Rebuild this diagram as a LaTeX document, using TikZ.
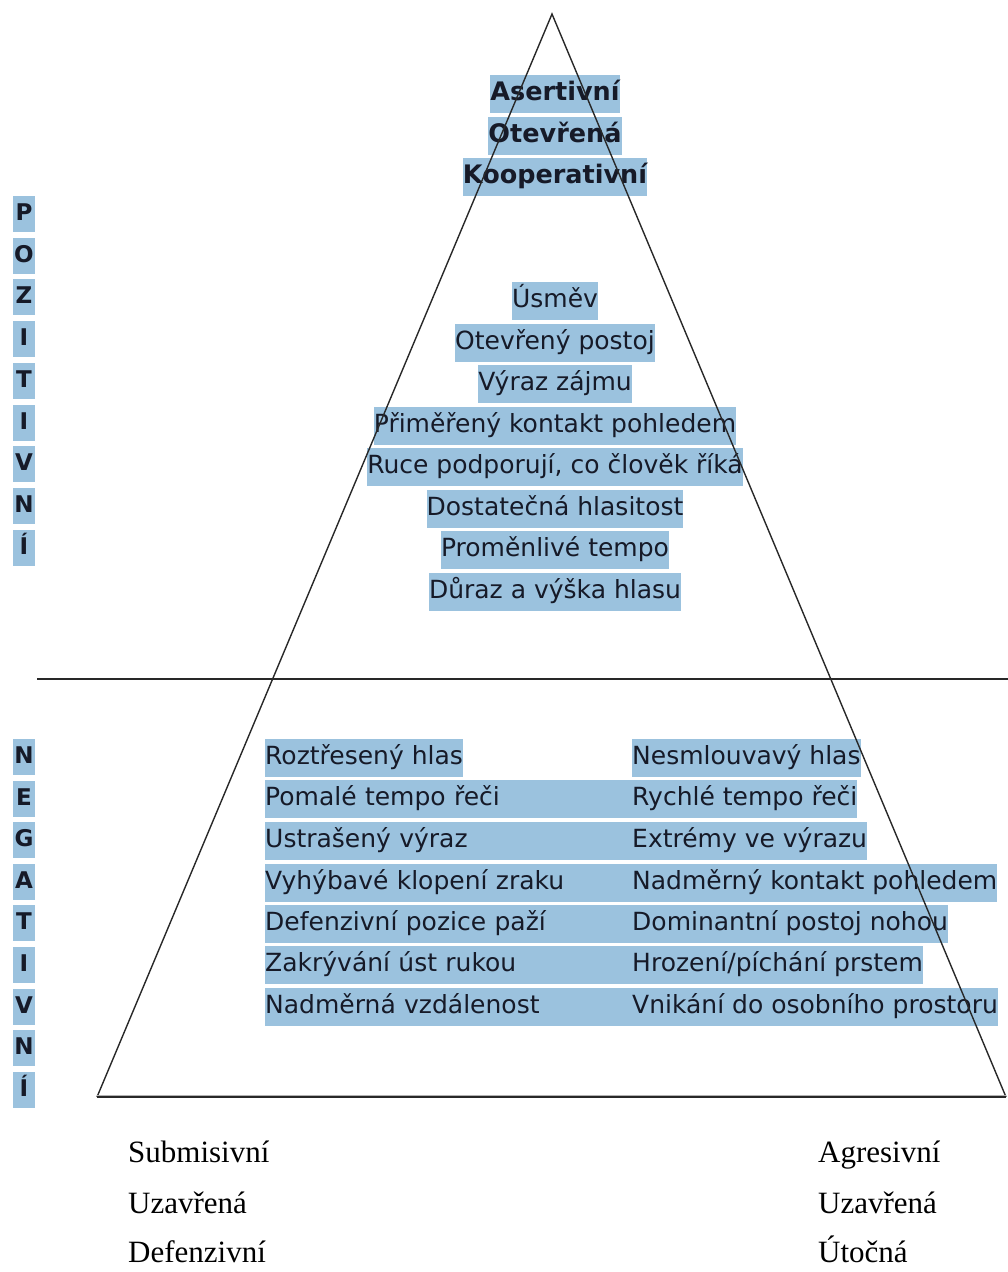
\documentclass[tikz,border=0pt]{standalone}
\usepackage{fontspec}
\setmainfont{DejaVu Sans}
\newfontfamily\bottomserif{Liberation Serif}
\definecolor{hlblue}{RGB}{155,194,222}
\definecolor{txt}{RGB}{22,26,40}
\definecolor{linegray}{RGB}{40,40,40}
\begin{document}
\begin{tikzpicture}[x=1pt,y=-1pt,
  hl/.style={fill=hlblue, inner xsep=0pt, inner ysep=0pt, minimum height=38pt,
    text height=19pt, text depth=6pt, text=txt, font=\fontsize{25}{30}\selectfont},
  hlb/.style={hl, font=\fontsize{25.5}{30}\selectfont\bfseries},
  side/.style={hl, minimum height=36pt, minimum width=22pt, font=\fontsize{23}{28}\selectfont\bfseries},
  wide/.style={hl, anchor=west, text width=367pt, align=left},
  rcol/.style={hl, anchor=west},
  btm/.style={inner sep=0pt, anchor=base west, text=black, font=\fontsize{31}{36}\selectfont\bottomserif},
  edge/.style={draw=linegray, line width=1.4pt}
]
\useasboundingbox (0,0) rectangle (1008,1272);

% --- top labels
\node[hlb] (t1) at (555,94) {Asertivní};
\node[hlb] (t2) at (555,136) {Otevřená};
\node[hlb] (t3) at (555,177) {Kooperativní};

% --- positive items
\node[hl] (p1) at (555,301) {Úsměv};
\node[hl] (p2) at (555,343) {Otevřený postoj};
\node[hl] (p3) at (555,384) {Výraz zájmu};
\node[hl] (p4) at (555,426) {Přiměřený kontakt pohledem};
\node[hl] (p5) at (555,467) {Ruce podporují, co člověk říká};
\node[hl] (p6) at (555,509) {Dostatečná hlasitost};
\node[hl] (p7) at (555,550) {Proměnlivé tempo};
\node[hl] (p8) at (555,592) {Důraz a výška hlasu};

% --- negative items, left column
\node[hl, anchor=west] (l1) at (265,758) {Roztřesený hlas};
\node[wide] (l2) at (265,799) {Pomalé tempo řeči};
\node[wide] (l3) at (265,841) {Ustrašený výraz};
\node[wide] (l4) at (265,883) {Vyhýbavé klopení zraku};
\node[wide] (l5) at (265,924) {Defenzivní pozice paží};
\node[wide] (l6) at (265,965) {Zakrývání úst rukou};
\node[wide] (l7) at (265,1007) {Nadměrná vzdálenost};

% --- negative items, right column
\node[rcol] (r1) at (632,758) {Nesmlouvavý hlas};
\node[rcol] (r2) at (632,799) {Rychlé tempo řeči};
\node[rcol] (r3) at (632,841) {Extrémy ve výrazu};
\node[rcol] (r4) at (632,883) {Nadměrný kontakt pohledem};
\node[rcol] (r5) at (632,924) {Dominantní postoj nohou};
\node[rcol] (r6) at (632,965) {Hrození/píchání prstem};
\node[rcol] (r7) at (632,1007) {Vnikání do osobního prostoru};

% --- side words
\foreach \ch [count=\i from 0] in {P,O,Z,I,T,I,V,N,Í}
  \node[side] (pos\i) at (24,{214+41.7*\i}) {\ch};
\foreach \ch [count=\i from 0] in {N,E,G,A,T,I,V,N,Í}
  \node[side] (neg\i) at (24,{757+41.6*\i}) {\ch};

% --- triangle and divider
\coordinate (apex) at (552,14);
\coordinate (bl) at (97,1097);
\coordinate (br) at (1006,1097);
\coordinate (hl) at (37,679);
\coordinate (hr) at (1008,679);
\draw[edge, line join=miter] (bl) -- (apex) -- (br);
\draw[draw=gray!60, line width=1.5pt] ([yshift=1.5pt]bl) -- ([yshift=1.5pt]br);
\draw[edge, line width=2pt] (bl) -- (br);
\draw[edge, line width=1.8pt] (hl) -- (hr);

% --- bottom labels
\node[btm] (b1) at (128,1162) {Submisivní};
\node[btm] (b2) at (128,1213) {Uzavřená};
\node[btm] (b3) at (128,1262) {Defenzivní};
\node[btm] (b4) at (818,1162) {Agresivní};
\node[btm] (b5) at (818,1213) {Uzavřená};
\node[btm] (b6) at (818,1262) {Útočná};
\end{tikzpicture}
\end{document}
